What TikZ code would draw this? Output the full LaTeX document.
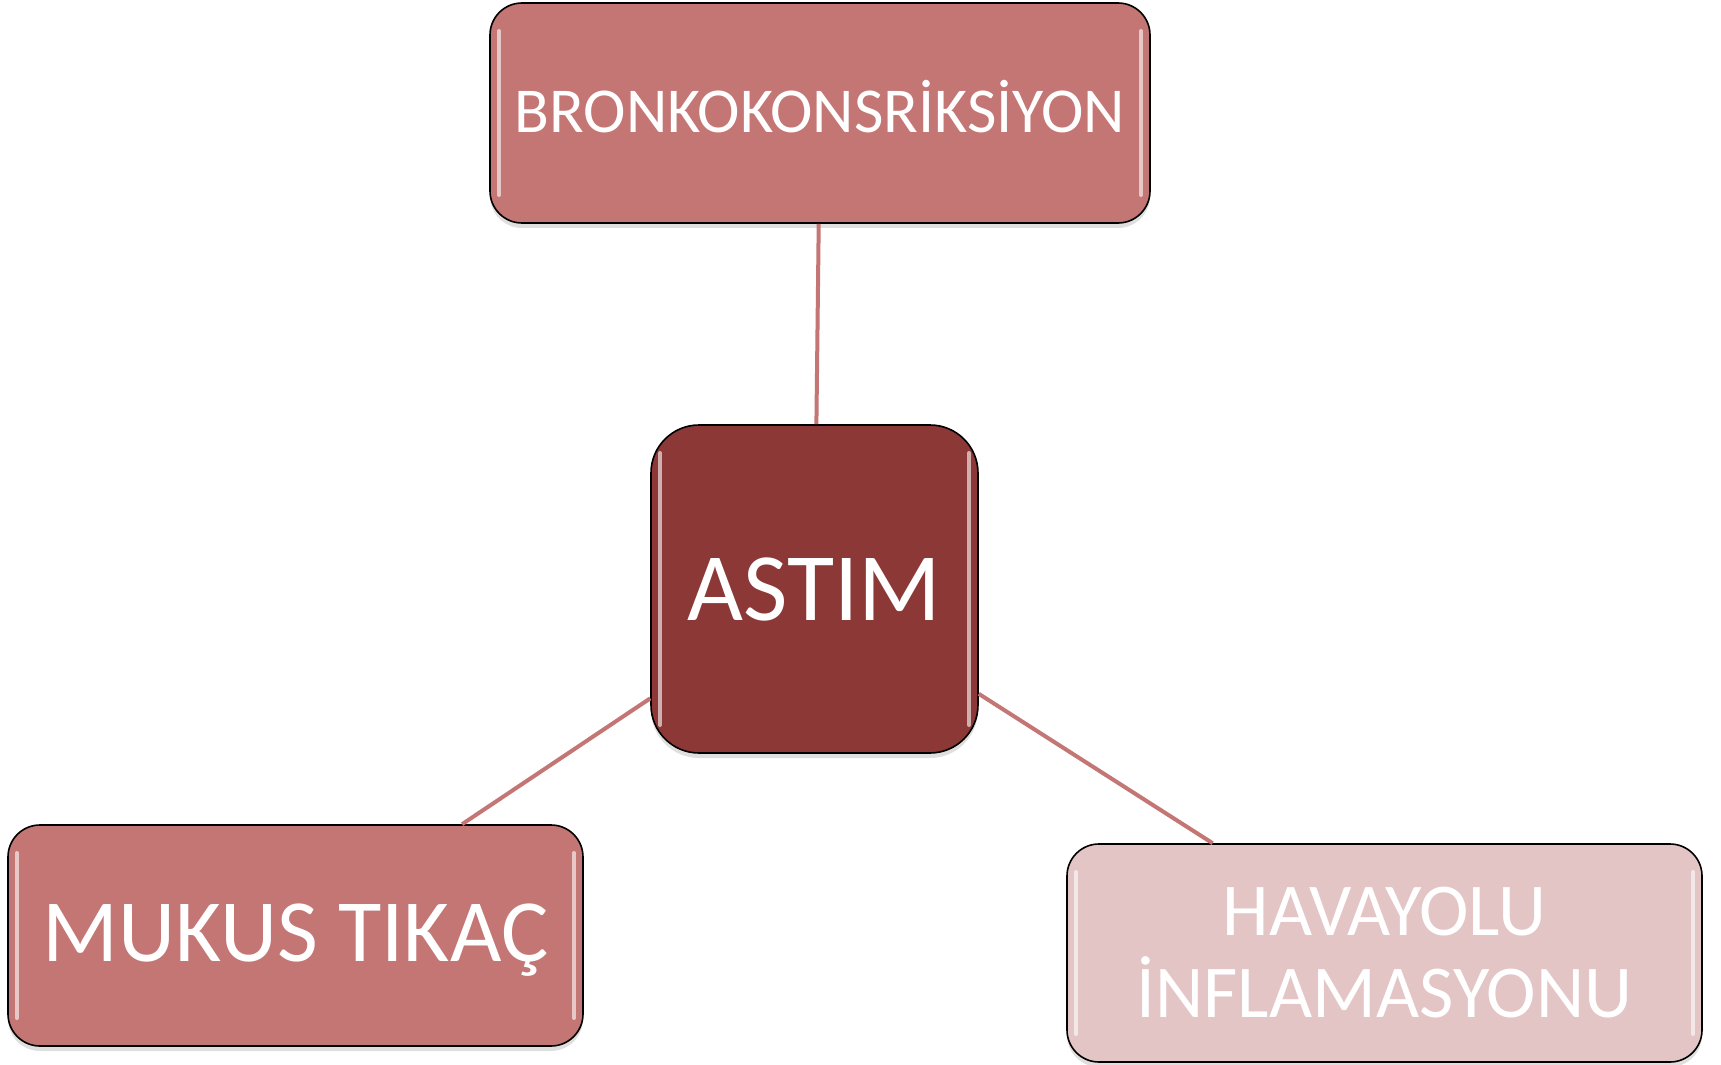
\documentclass[tikz,border=0pt]{standalone}
\usepackage{fontspec}
\setmainfont{Carlito}
\usepackage{xcolor}
\usepackage{tikz}
\usetikzlibrary{shadows}
\definecolor{bg}{HTML}{FFFFFF}
\definecolor{rose}{HTML}{C47674}
\definecolor{wine}{HTML}{8C3836}
\definecolor{blush}{HTML}{E3C5C5}
\definecolor{link}{HTML}{C47674}
\tikzset{
  box/.style={draw=black, line width=0.8pt, rounded corners=16pt, align=center,
    text=white, inner sep=0pt,
    drop shadow={opacity=0.25, shadow xshift=0pt, shadow yshift=-2.5pt},
    path picture={
      \draw[white, opacity=0.6, line width=2pt, line cap=round]
        ([xshift=4.5pt,yshift=-14pt]path picture bounding box.north west)
        -- ([xshift=4.5pt,yshift=14pt]path picture bounding box.south west);
      \draw[white, opacity=0.6, line width=2pt, line cap=round]
        ([xshift=-4.5pt,yshift=-14pt]path picture bounding box.north east)
        -- ([xshift=-4.5pt,yshift=14pt]path picture bounding box.south east);
    }},
  outer/.style={box, fill=rose},
  hub/.style={box, fill=wine, rounded corners=24pt},
  soft/.style={box, fill=blush},
  spoke/.style={draw=link, line width=2pt}
}
\begin{document}
\begin{tikzpicture}[x=0.5pt,y=-0.5pt]
  \useasboundingbox[fill=bg] (0,0) rectangle (1721,1065);

  \node[hub, minimum width=163.5pt, minimum height=164pt,
        font=\fontsize{48.3}{48}\selectfont] (astim) at (814.5,589) {ASTIM};
  \node[outer, minimum width=330pt, minimum height=110pt,
        font=\fontsize{32}{32}\selectfont] (bronko) at (820,113)
        {\raisebox{3pt}[\height][\depth]{BRONKOKONSRİKSİYON}};
  \node[outer, minimum width=287.5pt, minimum height=110.5pt,
        font=\fontsize{44.4}{44}\selectfont] (mukus) at (295.5,935.5)
        {\raisebox{-2.5pt}[\height][\depth]{MUKUS TIKAÇ}};
  \node[soft, minimum width=317.5pt, minimum height=109pt,
        font=\fontsize{37.3}{41}\selectfont] (havayolu) at (1384.5,953) {HAVAYOLU\\İNFLAMASYONU};

  % spokes from the hub
  \draw[spoke] (astim) -- (bronko);
  \draw[spoke] (astim) -- (mukus);
  \draw[spoke] (astim) -- (havayolu);
\end{tikzpicture}
\end{document}
